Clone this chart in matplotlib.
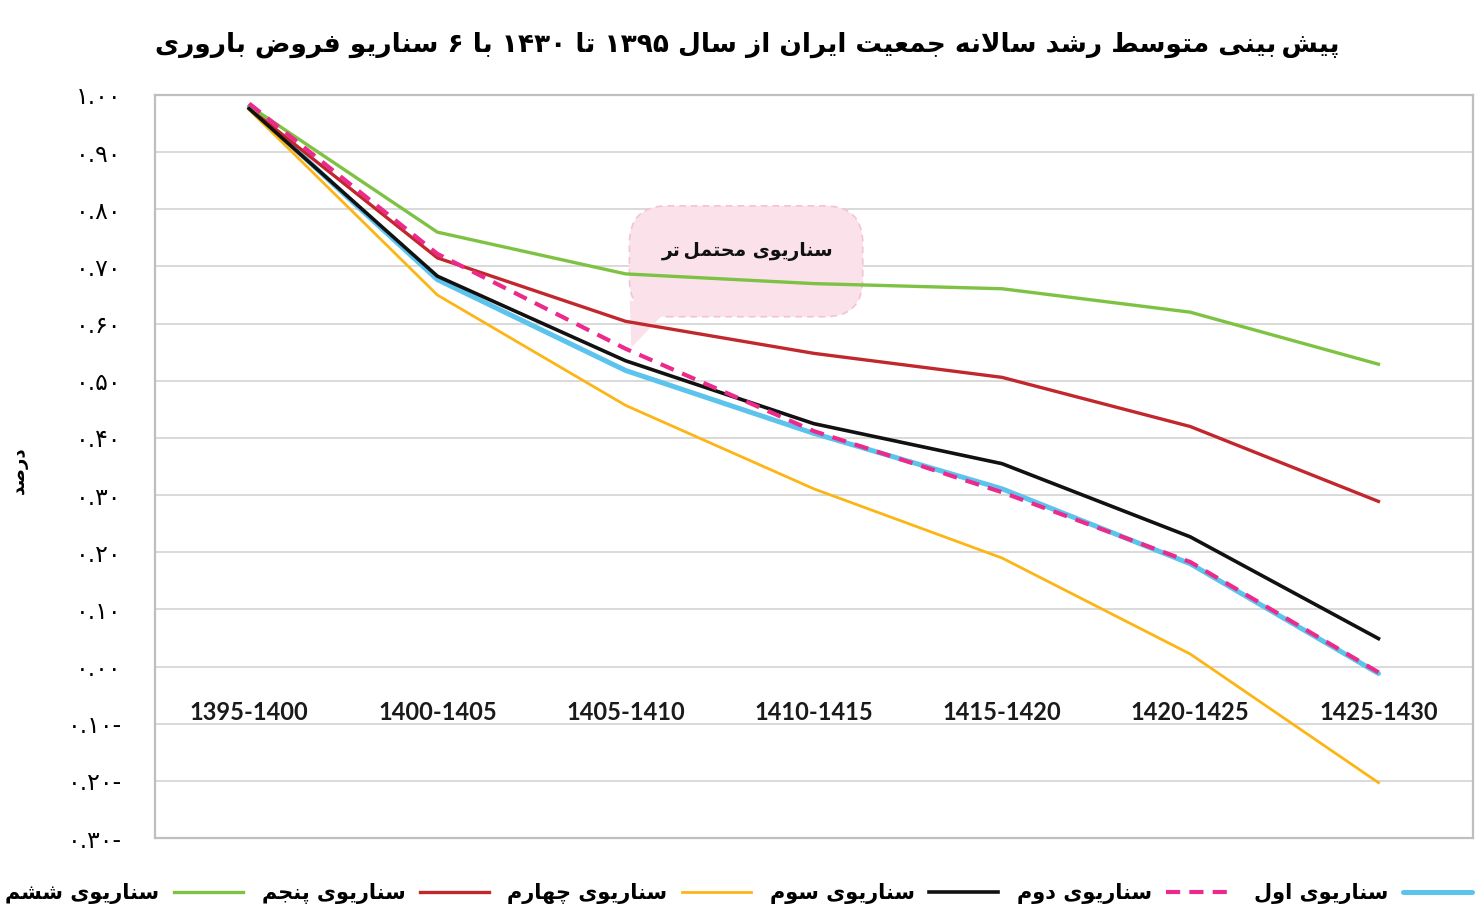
import matplotlib
matplotlib.use("Agg")
import matplotlib.pyplot as plt
from matplotlib.patches import FancyBboxPatch, Polygon

## Data

periods = ["1395-1400", "1400-1405", "1405-1410", "1410-1415",
           "1415-1420", "1420-1425", "1425-1430"]

s1 = [0.979, 0.677, 0.518, 0.408, 0.311, 0.180, -0.012]   # اول
s2 = [0.985, 0.722, 0.556, 0.412, 0.305, 0.183, -0.010]   # دوم
s3 = [0.976, 0.683, 0.535, 0.425, 0.355, 0.227, 0.049]    # سوم
s4 = [0.974, 0.650, 0.457, 0.311, 0.190, 0.022, -0.203]   # چهارم
s5 = [0.977, 0.715, 0.604, 0.548, 0.506, 0.420, 0.289]    # پنجم
s6 = [0.981, 0.760, 0.687, 0.670, 0.661, 0.620, 0.529]    # ششم

names = ["سناریوی اول", "سناریوی دوم", "سناریوی سوم",
         "سناریوی چهارم", "سناریوی پنجم", "سناریوی ششم"]

yticks = [1.0, 0.9, 0.8, 0.7, 0.6, 0.5, 0.4, 0.3, 0.2, 0.1, 0.0, -0.1, -0.2, -0.3]
ytick_labels = ["۱.۰۰", "۰.۹۰", "۰.۸۰", "۰.۷۰", "۰.۶۰", "۰.۵۰", "۰.۴۰",
                "۰.۳۰", "۰.۲۰", "۰.۱۰", "۰.۰۰", "۰.۱۰-", "۰.۲۰-", "۰.۳۰-"]

title = "پیش\u200cبینی متوسط رشد سالانه جمعیت ایران از سال ۱۳۹۵ تا ۱۴۳۰ با ۶ سناریو فروض باروری"
note = "سناریوی محتمل\u200cتر"
ylabel = "درصد"

## Minimal Persian shaping (matplotlib has no RTL/joining support)

dual = {'ب': 0xFE8F, 'ت': 0xFE95, 'ث': 0xFE99, 'ج': 0xFE9D, 'ح': 0xFEA1,
        'خ': 0xFEA5, 'س': 0xFEB1, 'ش': 0xFEB5, 'ص': 0xFEB9, 'ض': 0xFEBD,
        'ط': 0xFEC1, 'ظ': 0xFEC5, 'ع': 0xFEC9, 'غ': 0xFECD, 'ف': 0xFED1,
        'ق': 0xFED5, 'ل': 0xFEDD, 'م': 0xFEE1, 'ن': 0xFEE5, 'ه': 0xFEE9,
        'ی': 0xFBFC, 'پ': 0xFB56, 'چ': 0xFB7A, 'ک': 0xFB8E, 'گ': 0xFB92}
right = {'ا': 0xFE8D, 'آ': 0xFE81, 'د': 0xFEA9, 'ذ': 0xFEAB, 'ر': 0xFEAD,
         'ز': 0xFEAF, 'و': 0xFEED, 'ژ': 0xFB8A}


def fa(text):
    chars = list(text)
    n = len(chars)
    shaped = []
    i = 0
    while i < n:
        c = chars[i]
        prev_join = i > 0 and chars[i - 1] in dual
        if c == 'ل' and i + 1 < n and chars[i + 1] == 'ا':
            shaped.append(chr(0xFEFC if prev_join else 0xFEFB))
            i += 2
            continue
        nxt = chars[i + 1] if i + 1 < n else ''
        next_join = nxt in dual or nxt in right
        if c in dual:
            if prev_join:
                idx = 3 if next_join else 1
            else:
                idx = 2 if next_join else 0
            shaped.append(chr(dual[c] + idx))
        elif c in right:
            shaped.append(chr(right[c] + (1 if prev_join else 0)))
        elif c == '\u200c':
            shaped.append('\u2009')
        else:
            shaped.append(c)
        i += 1
    vis = shaped[::-1]
    res, run = [], []
    for c in vis:
        if c.isdigit():
            run.append(c)
        else:
            res.extend(run[::-1])
            run = []
            res.append(c)
    res.extend(run[::-1])
    return ''.join(res)


## Figure

fig = plt.figure(figsize=(14.77, 9.22), dpi=100)
ax = fig.add_axes([0.105, 0.091, 0.892, 0.806])

x = list(range(len(periods)))
l1, = ax.plot(x, s1, color="#5BC3EC", lw=3.6, zorder=3, solid_capstyle="round")
l3, = ax.plot(x, s3, color="#111111", lw=2.6, zorder=4)
l2, = ax.plot(x, s2, color="#EC2A8C", lw=3.0, ls=(0, (3.4, 2.2)), zorder=5)
l4, = ax.plot(x, s4, color="#FDB515", lw=2.0, zorder=3)
l5, = ax.plot(x, s5, color="#C1272D", lw=2.4, zorder=3)
l6, = ax.plot(x, s6, color="#7DC242", lw=2.4, zorder=3)

ax.set_xlim(-0.5, 6.5)
ax.set_ylim(-0.3, 1.0)
ax.set_xticks([])
ax.set_yticks(yticks)
ax.set_yticklabels(ytick_labels, fontsize=17, family="DejaVu Sans")
ax.tick_params(axis="y", length=0, pad=24)
ax.grid(axis="y", color="#D9D9D9", lw=1.4)
ax.set_axisbelow(True)
for sp in ax.spines.values():
    sp.set_color("#BFBFBF")
    sp.set_linewidth(1.6)

for i, p in enumerate(periods):
    ax.text(i, -0.08, p, ha="center", va="center", fontsize=17,
            fontweight="bold", family="Lato", color="#1A1A1A")

# callout box
pink = "#FBE2EA"
box = FancyBboxPatch((2.02, 0.612), 1.24, 0.194,
                     boxstyle="round,pad=0,rounding_size=0.2",
                     mutation_aspect=0.33, facecolor=pink,
                     edgecolor="#F4C3D3", ls=(0, (4, 3)), lw=1.2, zorder=1.5)
ax.add_patch(box)
tail = Polygon([(2.022, 0.64), (2.03, 0.558), (2.19, 0.613), (2.19, 0.64)],
               closed=True, facecolor=pink, edgecolor="none", zorder=1.6)
ax.add_patch(tail)
ax.text(2.646, 0.727, fa(note), ha="center", va="center", fontsize=13.5,
        fontweight="bold", family="DejaVu Sans", color="#111111", zorder=6)

fig.text(0.506, 0.951, fa(title), ha="center", va="center", fontsize=19,
         fontweight="bold", family="DejaVu Sans")
fig.text(0.013, 0.49, fa(ylabel), ha="center", va="center", rotation=90,
         fontsize=13, fontweight="bold", family="DejaVu Sans")

handles = [l6, l5, l4, l3, l2, l1]
labels = [fa(n) for n in names[::-1]]
fig.legend(handles, labels, loc="center", bbox_to_anchor=(0.5, 0.031),
           ncol=6, frameon=False, markerfirst=False, handlelength=3.3,
           columnspacing=0.9, handletextpad=0.7, borderpad=0.2,
           prop={"family": "DejaVu Sans", "weight": "bold", "size": 15})

fig.savefig("out.png", dpi=100)
